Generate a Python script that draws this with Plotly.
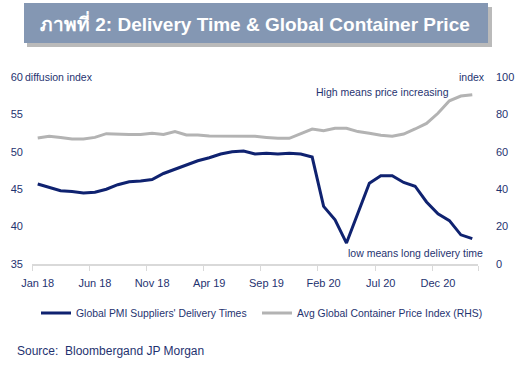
import plotly.graph_objects as go

months = ["Jan 18","Feb 18","Mar 18","Apr 18","May 18","Jun 18","Jul 18","Aug 18","Sep 18","Oct 18",
          "Nov 18","Dec 18","Jan 19","Feb 19","Mar 19","Apr 19","May 19","Jun 19","Jul 19","Aug 19",
          "Sep 19","Oct 19","Nov 19","Dec 19","Jan 20","Feb 20","Mar 20","Apr 20","May 20","Jun 20",
          "Jul 20","Aug 20","Sep 20","Oct 20","Nov 20","Dec 20","Jan 21","Feb 21","Mar 21"]

pmi_delivery = [45.7, 45.3, 44.8, 44.7, 44.5, 44.6, 45.0, 45.6, 46.0, 46.1,
                46.3, 47.1, 47.7, 48.2, 48.8, 49.2, 49.7, 50.0, 50.1, 49.7,
                49.8, 49.7, 49.8, 49.7, 49.3, 42.7, 40.9, 37.8, 41.8, 45.8,
                46.8, 46.8, 45.9, 45.4, 43.3, 41.7, 40.8, 38.9, 38.4]

container_price = [67.4, 68.3, 67.7, 66.8, 66.8, 67.7, 69.7, 69.3, 69.3, 69.3,
                   69.9, 69.3, 70.8, 69.0, 69.0, 68.4, 68.4, 68.1, 68.4, 68.3,
                   67.7, 67.2, 67.2, 69.5, 72.2, 71.3, 72.6, 72.6, 70.8, 69.9,
                   68.8, 68.3, 69.5, 72.2, 75.2, 80.6, 87.3, 89.8, 90.5]

label_every = 5
left_ticks = [35, 40, 45, 50, 55, 60]
right_ticks = [0, 20, 40, 60, 80, 100]

NAVY = "#0f2270"
TXT = "#1f3370"
GRAY = "#b3b3b3"
FONT = "Liberation Sans, Arial, sans-serif"

x = list(range(len(months)))

fig = go.Figure()
fig.add_trace(go.Scatter(x=x, y=pmi_delivery, mode="lines",
                         name="Global PMI Suppliers' Delivery Times", legend="legend",
                         line=dict(color=NAVY, width=3)))
fig.add_trace(go.Scatter(x=x, y=container_price, mode="lines", yaxis="y2",
                         name="Avg Global Container Price Index (RHS)", legend="legend2",
                         line=dict(color=GRAY, width=3)))

tickvals = x[::label_every]
ticktext = months[::label_every]
boundaries = [v - 0.5 for v in tickvals] + [len(months) - 0.5]

def px2x(px):
    return (px - 32) / 446.0

def px2y(py):
    return (264 - py) / 187.0

legend_common = dict(orientation="h", xanchor="left", yanchor="middle",
                     font=dict(size=10.4, color=TXT), itemwidth=30,
                     bgcolor="rgba(0,0,0,0)")

fig.update_layout(
    width=531, height=371,
    margin=dict(l=32, r=53, t=77, b=107, autoexpand=False),
    paper_bgcolor="white", plot_bgcolor="white",
    font=dict(family=FONT, color=TXT, size=11),
    showlegend=True,
    legend=dict(x=px2x(36), y=px2y(313), **legend_common),
    legend2=dict(x=px2x(257), y=px2y(313), **legend_common),
    xaxis=dict(range=[-0.5, len(months) - 0.5], tickvals=tickvals, ticktext=ticktext,
               ticks="", showgrid=False, zeroline=False,
               showline=True, linecolor="#d9d9d9", linewidth=2,
               tickfont=dict(size=11, color=TXT), ticklabelstandoff=8,
               minor=dict(tickvals=boundaries, ticks="outside", ticklen=5,
                          tickcolor="#d9d9d9", tickwidth=1, showgrid=False)),
    yaxis=dict(range=[35, 60], tickvals=left_ticks, showgrid=False, zeroline=False,
               showline=False, ticks="", tickfont=dict(size=11, color=TXT),
               ticklabelstandoff=8),
    yaxis2=dict(range=[0, 100], tickvals=right_ticks, overlaying="y", side="right",
                showgrid=False, zeroline=False, showline=False, ticks="",
                tickfont=dict(size=11, color=TXT), ticklabelstandoff=17),
)

# title banner with shadow
fig.add_shape(type="rect", xref="paper", yref="paper",
              x0=px2x(27), x1=px2x(492), y0=px2y(47), y1=px2y(7),
              fillcolor="#8c8c8c", line=dict(width=0), layer="below", opacity=0.6)
fig.add_shape(type="rect", xref="paper", yref="paper",
              x0=px2x(24), x1=px2x(488), y0=px2y(43), y1=px2y(3),
              fillcolor="#8497b3", line=dict(width=0), layer="below")
fig.add_annotation(xref="paper", yref="paper", x=px2x(255), y=px2y(23),
                   text="<b>ภาพที่ 2: Delivery Time & Global Container Price</b>",
                   showarrow=False, font=dict(size=19, color="white", family=FONT),
                   xanchor="center", yanchor="middle")

ann_font = dict(size=10.5, color=TXT, family=FONT)
fig.add_annotation(xref="paper", yref="paper", x=px2x(23), y=px2y(77), text="diffusion index",
                   showarrow=False, font=ann_font, xanchor="left", yanchor="middle")
fig.add_annotation(xref="paper", yref="paper", x=px2x(487), y=px2y(77), text="index",
                   showarrow=False, font=ann_font, xanchor="right", yanchor="middle")
fig.add_annotation(xref="paper", yref="paper", x=px2x(314), y=px2y(92),
                   text="High means price increasing",
                   showarrow=False, font=ann_font, xanchor="left", yanchor="middle")
fig.add_annotation(xref="paper", yref="paper", x=px2x(346), y=px2y(253),
                   text="low means long delivery time",
                   showarrow=False, font=ann_font, xanchor="left", yanchor="middle")
fig.add_annotation(xref="paper", yref="paper", x=px2x(15), y=px2y(351),
                   text="Source:  Bloombergand JP Morgan",
                   showarrow=False, font=dict(size=12, color=TXT, family=FONT),
                   xanchor="left", yanchor="middle")

fig.write_html("out.html", config={"displayModeBar": False},
               post_script="document.body.style.margin='0';document.body.style.overflow='hidden';")
